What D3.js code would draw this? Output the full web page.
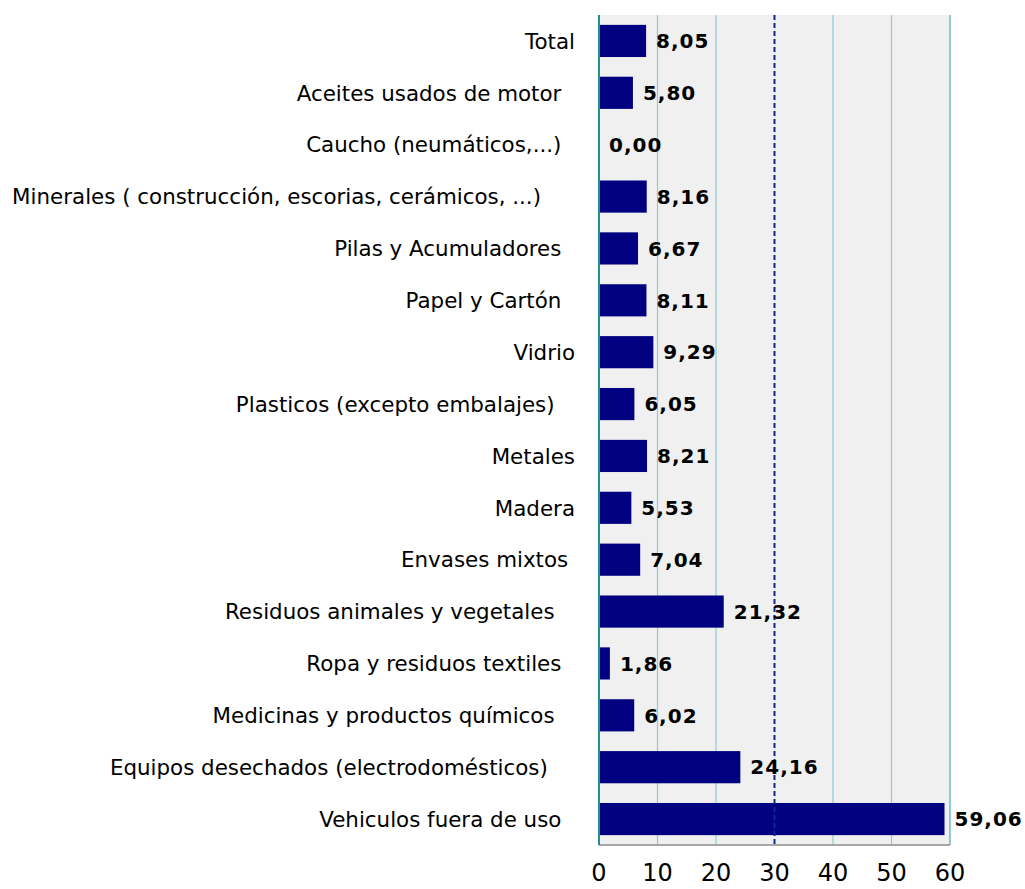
<!DOCTYPE html>
<html>
<head>
<meta charset="utf-8">
<script src="https://cdn.jsdelivr.net/npm/d3@7"></script>
<style>
  html, body { margin: 0; padding: 0; background: #ffffff; }
  svg text { font-family: "DejaVu Sans", Verdana, sans-serif; white-space: pre; }
</style>
</head>
<body>
<svg id="chart" width="1025" height="889"></svg>
<script>
// Categories (top to bottom) and their values
const categories = [
  "Total",
  "Aceites usados de motor  ",
  "Caucho (neumáticos,...)  ",
  "Minerales ( construcción, escorias, cerámicos, ...)     ",
  "Pilas y Acumuladores  ",
  "Papel y Cartón  ",
  "Vidrio",
  "Plasticos (excepto embalajes)   ",
  "Metales",
  "Madera",
  "Envases mixtos ",
  "Residuos animales y vegetales   ",
  "Ropa y residuos textiles  ",
  "Medicinas y productos químicos   ",
  "Equipos desechados (electrodomésticos)    ",
  "Vehiculos fuera de uso  "
];
const values = [8.05, 5.80, 0.00, 8.16, 6.67, 8.11, 9.29, 6.05, 8.21, 5.53, 7.04, 21.32, 1.86, 6.02, 24.16, 59.06];
const tickValues = [0, 10, 20, 30, 40, 50, 60];
const referenceValue = 30;

const svg = d3.select("#chart");
const margin = { left: 599, right: 75, top: 15, bottom: 44 };
const W = 1025, H = 889;

const x = d3.scaleLinear().domain([0, 60]).range([margin.left, W - margin.right]);
const y = d3.scaleBand().domain(categories).range([margin.top, H - margin.bottom]).paddingInner(0.38).paddingOuter(0.19);

// Plot background
svg.append("rect")
  .attr("x", x(0)).attr("y", margin.top)
  .attr("width", x(60) - x(0)).attr("height", H - margin.bottom - margin.top)
  .attr("fill", "#f0f0f0");

// Vertical gridlines
svg.append("g").selectAll("line")
  .data(tickValues.filter(d => d > 0 && d !== referenceValue))
  .join("line")
  .attr("x1", d => x(d)).attr("x2", d => x(d))
  .attr("y1", margin.top).attr("y2", H - margin.bottom)
  .attr("stroke", d => d === 60 ? "#4aaebb" : "#93c9d1")
  .attr("stroke-width", 1.2);

// Bars
svg.append("g").selectAll("rect")
  .data(values)
  .join("rect")
  .attr("x", x(0))
  .attr("y", (d, i) => y(categories[i]))
  .attr("width", d => x(d) - x(0))
  .attr("height", y.bandwidth())
  .attr("fill", "#000080");

// Dashed reference line
svg.append("line")
  .attr("x1", x(referenceValue)).attr("x2", x(referenceValue))
  .attr("y1", margin.top).attr("y2", H - margin.bottom)
  .attr("stroke", "#0a2a8a").attr("stroke-width", 2)
  .attr("stroke-dasharray", "5,3");

// Bottom axis line
svg.append("line")
  .attr("x1", x(0)).attr("x2", x(60))
  .attr("y1", H - margin.bottom).attr("y2", H - margin.bottom)
  .attr("stroke", "#8c8c8c").attr("stroke-width", 1.5);

// Left axis line
svg.append("line")
  .attr("x1", x(0)).attr("x2", x(0))
  .attr("y1", margin.top).attr("y2", H - margin.bottom)
  .attr("stroke", "#238f8f").attr("stroke-width", 2);

// Value labels
const fmt = d3.format(".2f");
svg.append("g").selectAll("text")
  .data(values)
  .join("text")
  .attr("x", d => x(d) + 10)
  .attr("y", (d, i) => y(categories[i]) + y.bandwidth() / 2)
  .attr("dy", "0.36em")
  .attr("font-size", 20)
  .attr("font-weight", "bold")
  .attr("letter-spacing", 1)
  .attr("fill", "#000000")
  .text(d => fmt(d).replace(".", ","));

// Category labels
svg.append("g").selectAll("text")
  .data(categories)
  .join("text")
  .attr("x", x(0) - 24)
  .attr("y", d => y(d) + y.bandwidth() / 2)
  .attr("dy", "0.36em")
  .attr("text-anchor", "end")
  .attr("font-size", 21.4)
  .attr("fill", "#000000")
  .text(d => d);

// X axis tick labels
svg.append("g").selectAll("text")
  .data(tickValues)
  .join("text")
  .attr("x", d => x(d))
  .attr("y", H - 8)
  .attr("text-anchor", "middle")
  .attr("font-size", 24)
  .attr("fill", "#000000")
  .text(d => d);
</script>
</body>
</html>
